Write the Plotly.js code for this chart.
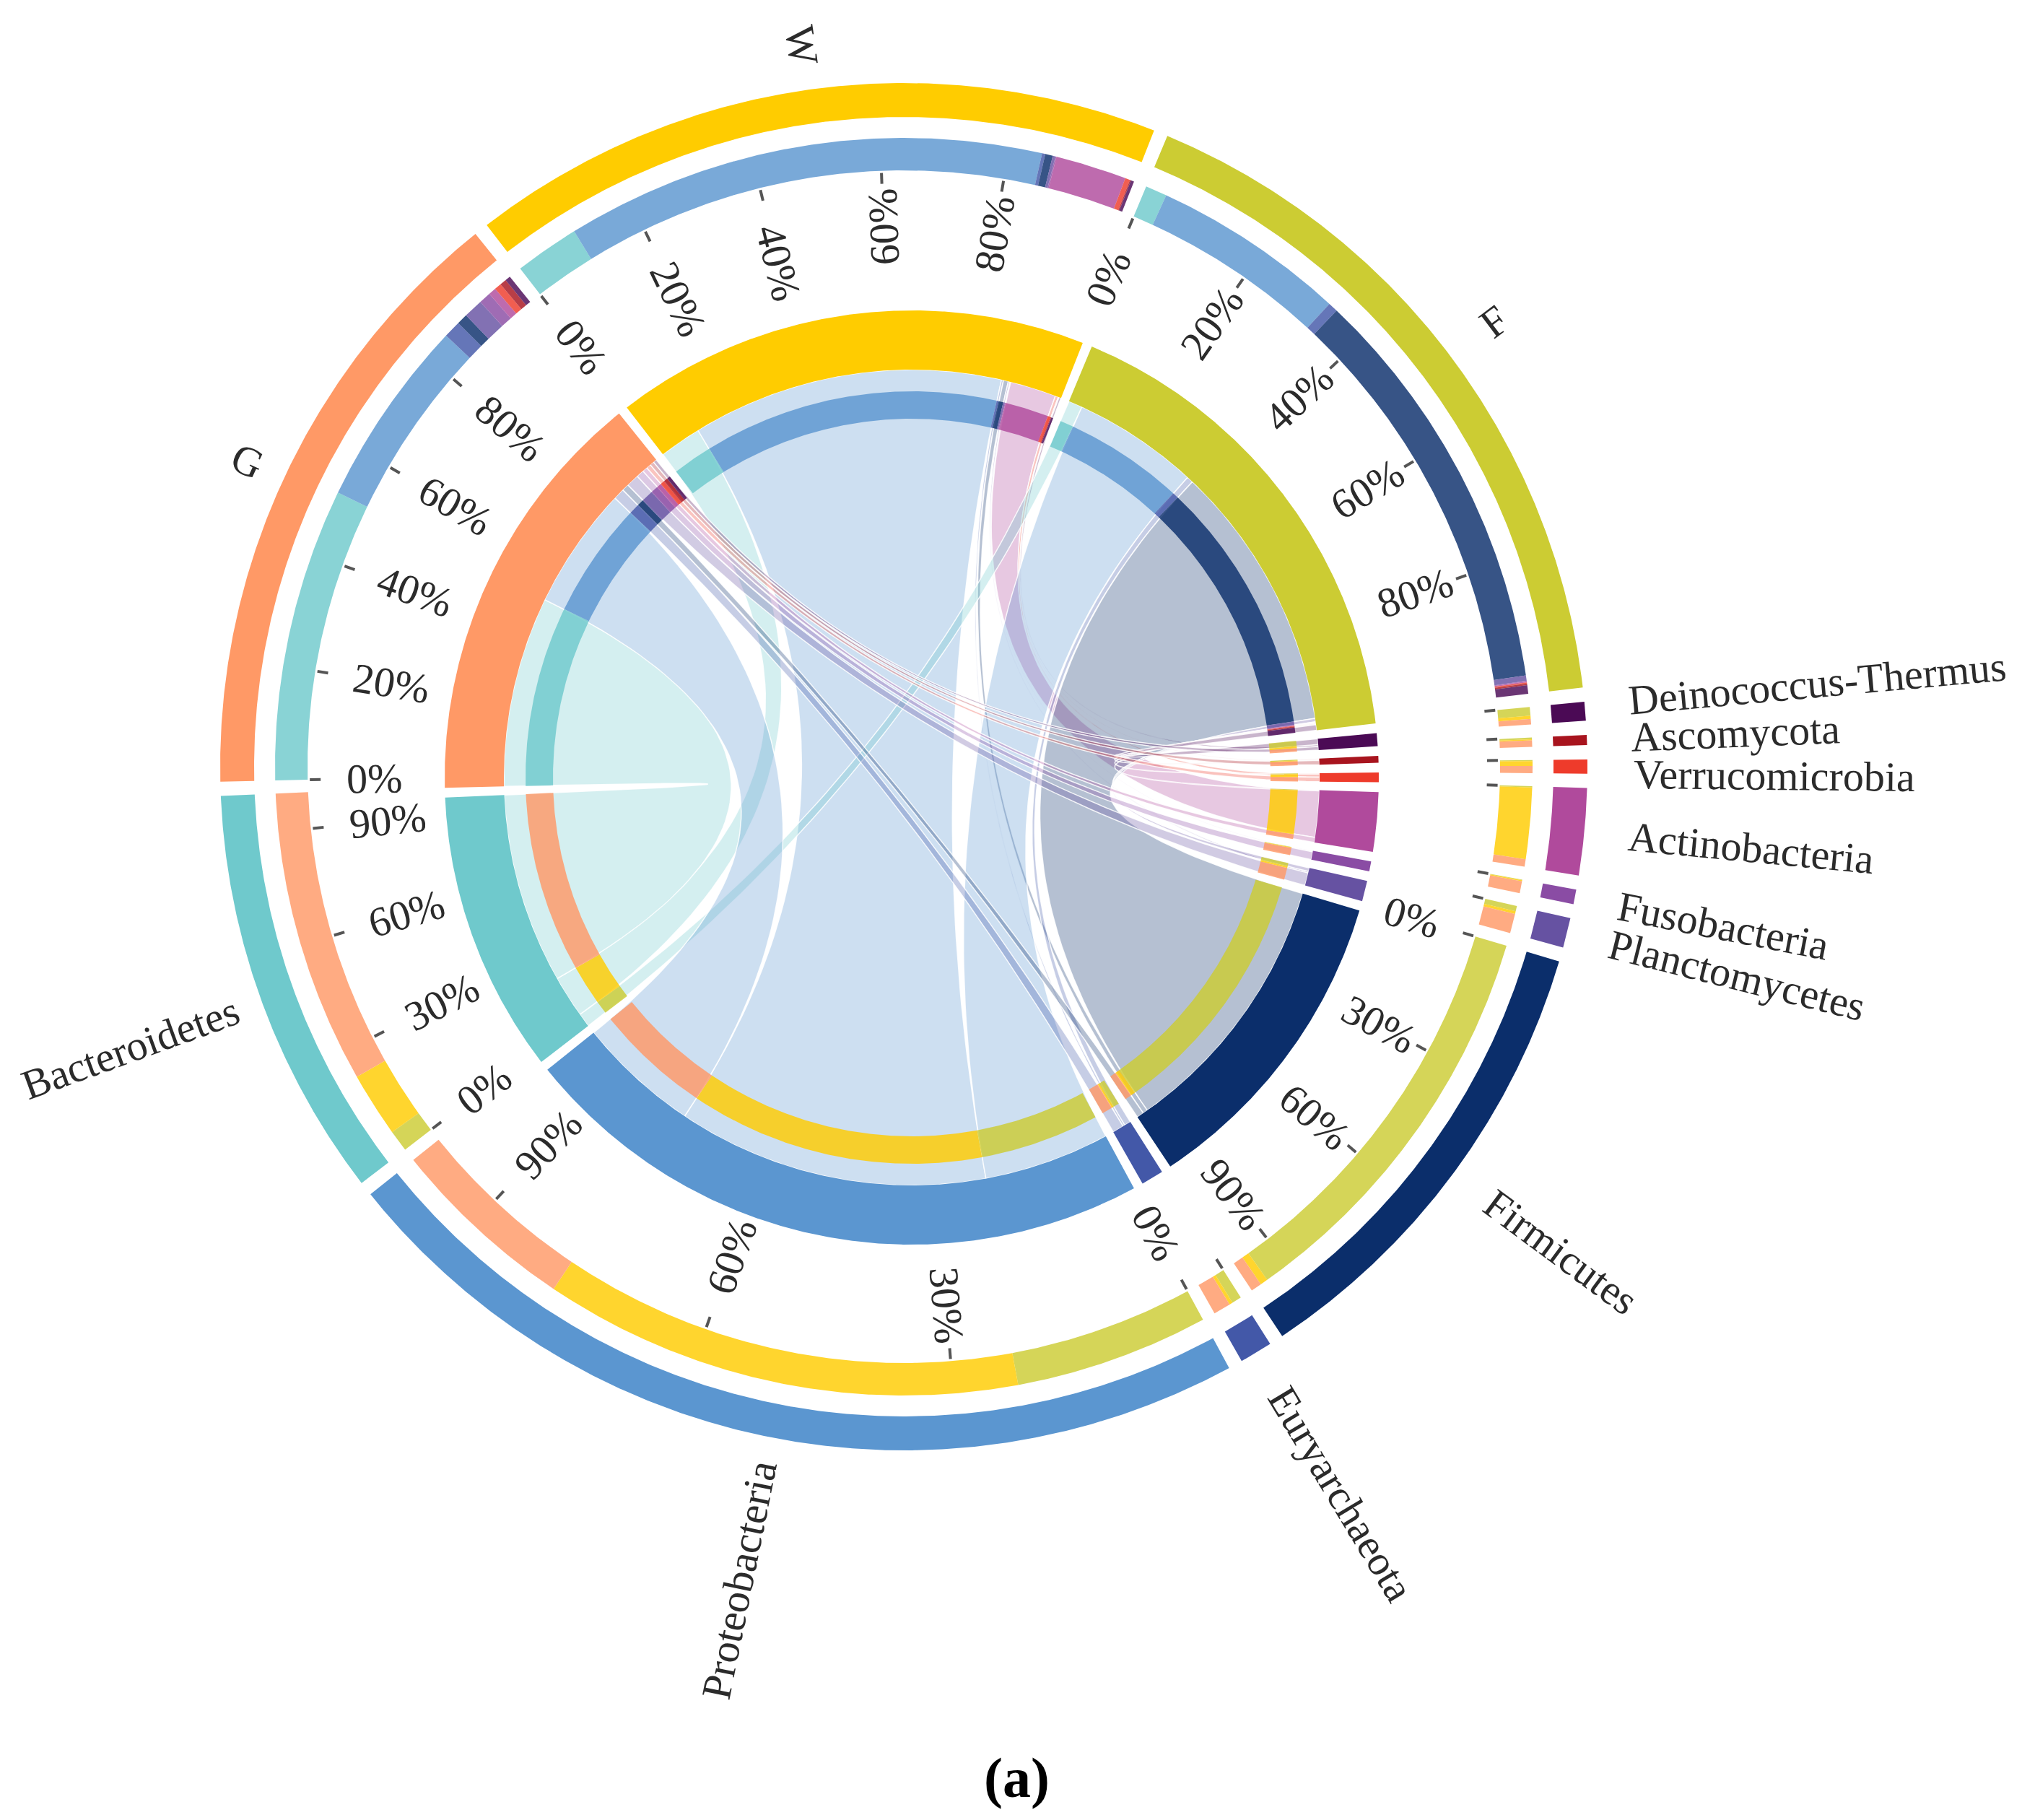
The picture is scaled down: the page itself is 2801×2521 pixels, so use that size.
<!DOCTYPE html>
<html><head><meta charset="utf-8">
<script src="https://cdn.plot.ly/plotly-3.0.1.min.js"></script>
<style>html,body{margin:0;padding:0;background:#fff;} #chart{width:2801px;height:2521px;}</style>
</head><body><div id="chart"></div>
<script>
// ---------------- data ----------------
const samples = ['W', 'F', 'G'];
const sampleColors = ['#ffcc00', '#cccc33', '#ff9966'];
const phyla = ['Deinococcus-Thermus', 'Ascomycota', 'Verrucomicrobia', 'Actinobacteria', 'Fusobacteria',
               'Planctomycetes', 'Firmicutes', 'Euryarchaeota', 'Proteobacteria', 'Bacteroidetes'];
const phylaColors = ['#4b0a55', '#a8141e', '#ee3b2b', '#b04a9c', '#8a4ca4',
                     '#6652a2', '#0b2e6b', '#4358a8', '#5b96d0', '#6fc9cc'];
// abundance of each phylum (same order as phyla) in each sample
const abundanceW = [0.3, 0.1, 0.45, 6.6, 0.1, 0.25, 0.7, 0.3, 44.5, 6.0];
const abundanceF = [0.8, 0.15, 0.1, 0.1, 0.05, 0.5, 38.3, 0.9, 18.0, 2.0];
const abundanceG = [0.5, 0.6, 0.65, 0.7, 1.1, 1.8, 1.0, 1.6, 17.5, 27.2];
const sampleTicks = [0, 20, 40, 60, 80];
const phylaTicks = [0, 30, 60, 90];
const smallTicks = [0];
const caption = '(a)';

// ---------------- layout constants ----------------
const gapDeg = 1.2;
const startDeg = -37.6;
const flipDeg = -3;
const minLabelSep = 2.9;
const outerC = [1252, 1062];
const innerC = [1263, 1077];
const R = {labelIn: 900, labelOut: 947, compOutIn: 826, compOutOut: 871, tickIn: 808, tickOut: 823,
           pctOutwardIn: 695, pctInwardOut: 772, nameOutwardIn: 1008, nameInwardIn: 982,
           segIn: 565, segOut: 647, compInIn: 497, compInOut: 535};
const FONT = 'Liberation Serif, Times New Roman, serif';
const FS = 58;

function hexToRgba(hex, a) {
  const n = parseInt(hex.slice(1), 16);
  return 'rgba(' + ((n >> 16) & 255) + ',' + ((n >> 8) & 255) + ',' + (n & 255) + ',' + a + ')';
}
function pt(c, r, deg) {
  const a = deg * Math.PI / 180;
  return [c[0] + r * Math.sin(a), c[1] - r * Math.cos(a)];
}
function arcPts(c, r, a0, a1) {
  const n = Math.max(2, Math.ceil(Math.abs(a1 - a0) / 0.25) + 1);
  const out = [];
  for (let i = 0; i < n; i++) out.push(pt(c, r, a0 + (a1 - a0) * i / (n - 1)));
  return out;
}
function bez(p0, cc, p2) {
  const out = [];
  const n = 60;
  for (let i = 1; i < n; i++) {
    const t = i / n;
    out.push([(1 - t) * (1 - t) * p0[0] + 2 * (1 - t) * t * cc[0] + t * t * p2[0],
              (1 - t) * (1 - t) * p0[1] + 2 * (1 - t) * t * cc[1] + t * t * p2[1]]);
  }
  return out;
}
function fillTrace(pts, color, line) {
  return {type: 'scatter', mode: 'lines', x: pts.map(p => p[0]), y: pts.map(p => p[1]),
          fill: 'toself', fillcolor: color,
          line: line || {color: 'rgba(0,0,0,0)', width: 0},
          hoverinfo: 'skip', showlegend: false};
}
function sectorTrace(c, r0, r1, a0, a1, color) {
  const pts = arcPts(c, r1, a0, a1).concat(arcPts(c, r0, a1, a0));
  pts.push(pts[0]);
  return fillTrace(pts, color);
}

// ---------------- segments ----------------
const rows = [abundanceW, abundanceF, abundanceG];
const segs = [];
segs.push({name: samples[0], color: sampleColors[0], kind: 's', idx: 0});
segs.push({name: samples[1], color: sampleColors[1], kind: 's', idx: 1});
phyla.forEach((p, i) => segs.push({name: p, color: phylaColors[i], kind: 'p', idx: i}));
segs.push({name: samples[2], color: sampleColors[2], kind: 's', idx: 2});
const N = segs.length;

function val(a, b) {
  const s = a.kind === 's' ? a : b, p = a.kind === 's' ? b : a;
  if (s.kind !== 's' || p.kind !== 'p') return 0;
  return rows[s.idx][p.idx];
}
let grand = 0;
segs.forEach((s, i) => {
  s.partners = [];
  segs.forEach((o, j) => { const v = val(s, o); if (v > 0) s.partners.push({j: j, v: v}); });
  s.total = s.partners.reduce((a, b) => a + b.v, 0);
  grand += s.total;
});
const k = (360 - N * gapDeg) / grand;
let cur = startDeg;
const blocks = {};
segs.forEach((s, i) => {
  s.start = cur; s.end = cur + s.total * k; cur = s.end + gapDeg;
  s.partners.sort((a, b) => ((i - a.j + N) % N) - ((i - b.j + N) % N));
  let b = s.start;
  s.partners.forEach(p => { blocks[i + '-' + p.j] = [b, b + p.v * k, segs[p.j].color]; b += p.v * k; });
});

const traces = [];
// ribbons
segs.forEach((s, i) => {
  if (s.kind !== 's') return;
  s.partners.forEach(p => {
    const A = blocks[i + '-' + p.j], B = blocks[p.j + '-' + i];
    const c = innerC, r = R.segIn;
    let pts = arcPts(c, r, A[0], A[1]);
    pts = pts.concat(bez(pt(c, r, A[1]), c, pt(c, r, B[0])));
    pts = pts.concat(arcPts(c, r, B[0], B[1]));
    pts = pts.concat(bez(pt(c, r, B[1]), c, pt(c, r, A[0])));
    pts.push(pts[0]);
    traces.push(fillTrace(pts, hexToRgba(segs[p.j].color, 0.3), {color: 'rgba(255,255,255,0.85)', width: 1.5}));
  });
});
// inner & outer composition bands, segment bands
segs.forEach((s, i) => {
  s.partners.forEach(p => {
    const B = blocks[i + '-' + p.j];
    const col = hexToRgba(B[2], 0.82);
    traces.push(sectorTrace(innerC, R.compInIn, R.compInOut, B[0], B[1], col));
    traces.push(sectorTrace(outerC, R.compOutIn, R.compOutOut, B[0], B[1], col));
  });
  traces.push(sectorTrace(innerC, R.segIn, R.segOut, s.start, s.end, s.color));
  traces.push(sectorTrace(outerC, R.labelIn, R.labelOut, s.start, s.end, s.color));
});

// ---------------- ticks and labels ----------------
const W_EM = {'%': .833, '-': .333, ' ': .25, 'A': .722, 'B': .667, 'D': .722, 'E': .611, 'F': .556, 'G': .722,
  'P': .556, 'T': .611, 'V': .722, 'W': .944, 'a': .444, 'b': .5, 'c': .444, 'd': .5, 'e': .444, 'f': .333,
  'g': .5, 'h': .5, 'i': .278, 'l': .278, 'm': .778, 'n': .5, 'o': .5, 'p': .5, 'r': .333, 's': .389,
  't': .278, 'u': .5, 'v': .5, 'y': .5, 'z': .444};
function textLen(t, fs) { let w = 0; for (const ch of t) w += (W_EM[ch] !== undefined ? W_EM[ch] : .5); return w * fs; }
function norm(a) { return ((a % 360) + 360) % 360; }
function radialLabel(text, theta, rOutwardIn, rInwardOut, fs, color) {
  const th = norm(theta);
  const thf = norm(theta - flipDeg);
  const outward = thf > 0 && thf < 180;
  let rot = outward ? th - 90 : th + 90;
  rot = norm(rot); if (rot > 180) rot -= 360;
  const L = textLen(text, fs);
  const rc = outward ? rOutwardIn + L / 2 : rInwardOut - L / 2;
  const p = pt(outerC, rc, theta);
  return {x: p[0], y: p[1], xref: 'x', yref: 'y', text: text, showarrow: false,
          xanchor: 'center', yanchor: 'middle', textangle: rot,
          font: {family: FONT, size: fs, color: color}};
}
const annotations = [];
const tx = [], ty = [];
segs.forEach(s => {
  const span = s.end - s.start;
  const ticks = s.kind === 's' ? sampleTicks : (span > 15 ? phylaTicks : smallTicks);
  ticks.forEach(t => {
    const a = s.start + span * t / 100;
    const p0 = pt(outerC, R.tickIn, a), p1 = pt(outerC, R.tickOut, a);
    tx.push(p0[0], p1[0], null); ty.push(p0[1], p1[1], null);
    if (span > 15) annotations.push(radialLabel(t + '%', a, R.pctOutwardIn, R.pctInwardOut, FS, '#2b2b2b'));
  });
});
// name labels, spread apart where they would collide
const labelAng = segs.map(s => (s.start + s.end) / 2);
for (let it = 0; it < 50; it++) {
  for (let i = 0; i < N - 1; i++) {
    const d = labelAng[i + 1] - labelAng[i];
    if (d < minLabelSep) { const m = (minLabelSep - d) / 2; labelAng[i] -= m; labelAng[i + 1] += m; }
  }
}
segs.forEach((s, i) => {
  const L = textLen(s.name, FS);
  annotations.push(radialLabel(s.name, labelAng[i], R.nameOutwardIn, R.nameInwardIn + L, FS, '#2b2b2b'));
});
traces.push({type: 'scatter', mode: 'lines', x: tx, y: ty, line: {color: '#555555', width: 4},
             hoverinfo: 'skip', showlegend: false});
annotations.push({x: 1408, y: 2462, xref: 'x', yref: 'y', text: '<b>' + caption + '</b>', showarrow: false,
                  xanchor: 'center', yanchor: 'middle', font: {family: FONT, size: 78, color: '#000'}});

const layout = {width: 2801, height: 2521, margin: {l: 0, r: 0, t: 0, b: 0},
  paper_bgcolor: '#ffffff', plot_bgcolor: '#ffffff', showlegend: false,
  xaxis: {range: [0, 2801], visible: false, fixedrange: true},
  yaxis: {range: [2521, 0], visible: false, fixedrange: true},
  annotations: annotations};
Plotly.newPlot('chart', traces, layout, {staticPlot: true});
</script></body></html>
